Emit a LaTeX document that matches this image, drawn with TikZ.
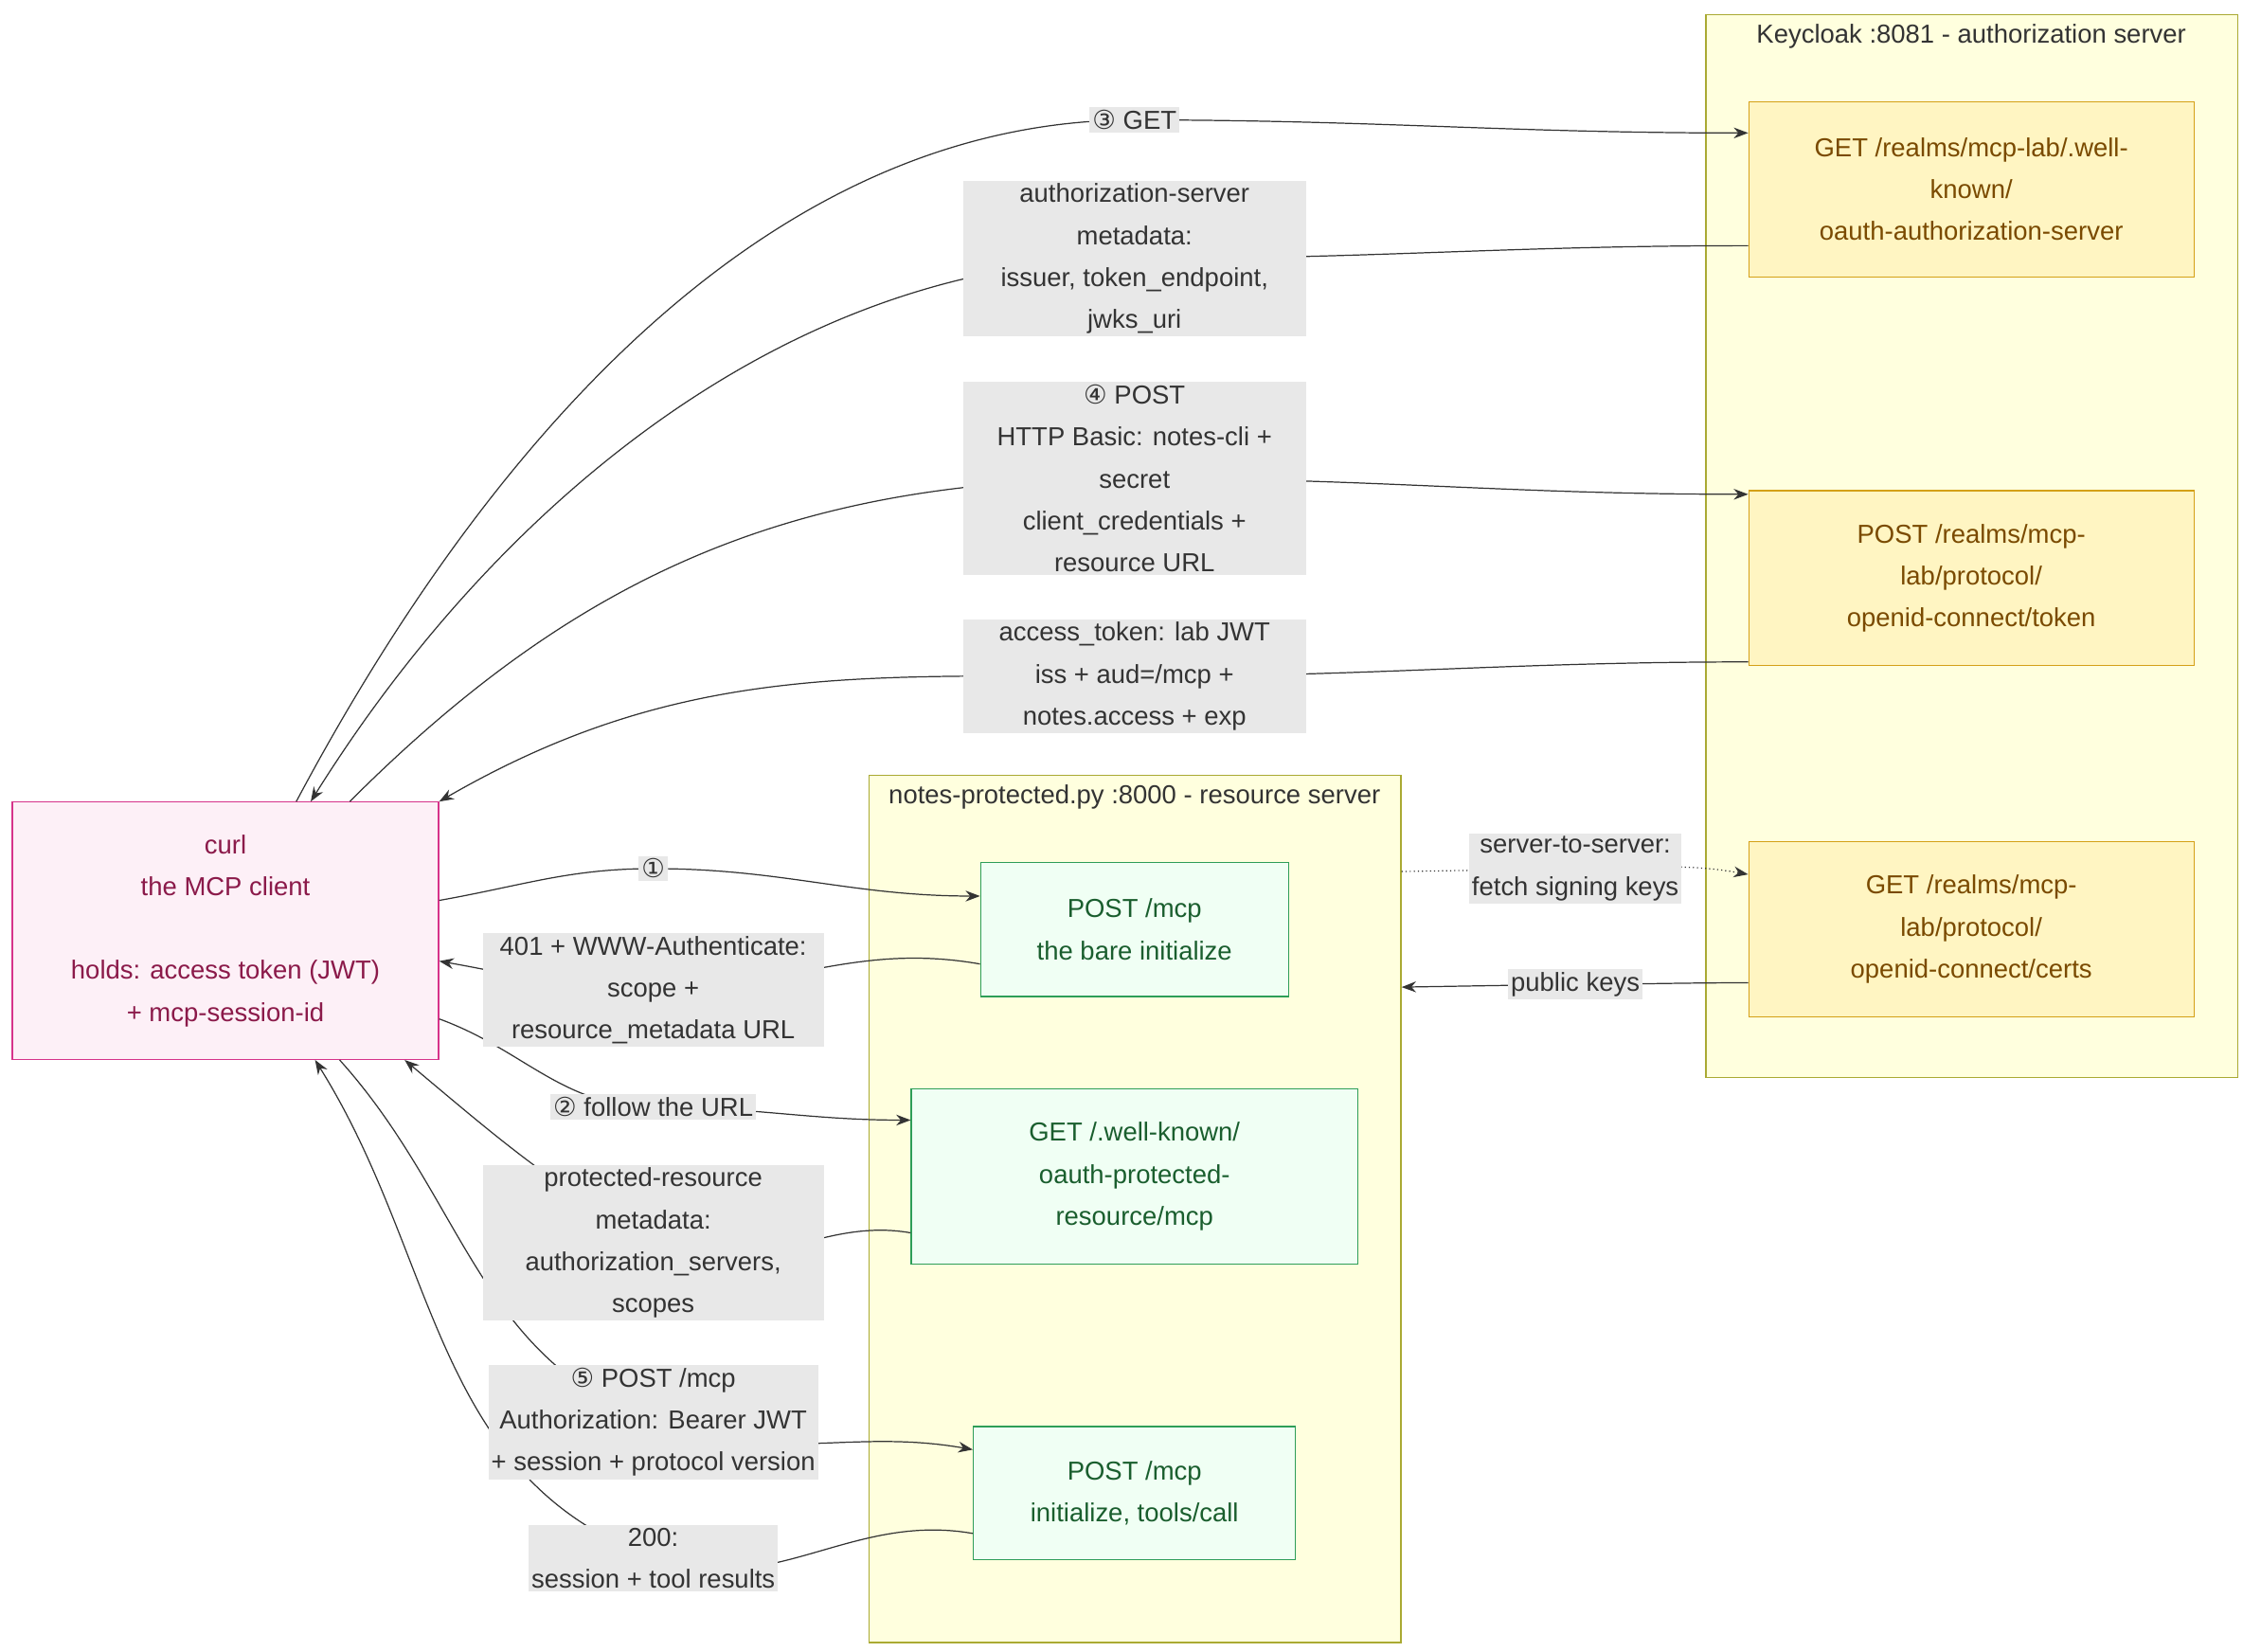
\documentclass[tikz,border=0pt]{standalone}
\usepackage{fontspec}
\setmainfont{Liberation Sans}
\newfontfamily\circfont{DejaVu Sans}
\usetikzlibrary{arrows.meta}
\definecolor{clusterfill}{HTML}{FFFFDE}
\definecolor{clusterline}{HTML}{AAAA33}
\definecolor{kcfill}{HTML}{FFF5C2}
\definecolor{kcline}{HTML}{D4A017}
\definecolor{kctext}{HTML}{7A4A00}
\definecolor{rsfill}{HTML}{F0FFF4}
\definecolor{rsline}{HTML}{2E9E58}
\definecolor{rstext}{HTML}{1A5E2E}
\definecolor{clfill}{HTML}{FDF0F7}
\definecolor{clline}{HTML}{D6338A}
\definecolor{cltext}{HTML}{8B1A4A}
\definecolor{lblfill}{HTML}{E8E8E8}
\newcommand{\cn}[1]{{\circfont #1}}
\tikzset{
  every node/.style={font=\fontsize{9}{14.5}\selectfont, align=center},
  cluster/.style={draw=clusterline, fill=clusterfill, anchor=north west, inner sep=0pt},
  kcbox/.style={draw=kcline, fill=kcfill, text=kctext, minimum width=154pt, minimum height=60.5pt},
  rsbox/.style={draw=rsline, fill=rsfill, text=rstext},
  edgelabel/.style={fill=lblfill, text=black!80, inner sep=1pt},
  flow/.style={draw=black!80, -{Stealth[length=5pt]}},
}
\begin{document}
\begin{tikzpicture}[x=0.5pt,y=-0.5pt]
\useasboundingbox (0,0) rectangle (1552,1143);

% Clusters
\node[cluster, minimum width=184pt, minimum height=367.5pt] (kc) at (1180,10) {};
\node[anchor=north, text=black!80] (kctitle) at (1364,10) {Keycloak :8081 - authorization server};
\node[cluster, minimum width=184pt, minimum height=300pt] (rs) at (601,536) {};
\node[anchor=north, text=black!80] (rstitle) at (785,536) {notes-protected.py :8000 - resource server};

% Keycloak endpoints
\node[kcbox] (meta) at (1364,131) {GET /realms/mcp-lab/.well-\\known/\\oauth-authorization-server};
\node[kcbox] (token) at (1364,400) {POST /realms/mcp-\\lab/protocol/\\openid-connect/token};
\node[kcbox] (certs) at (1364,643) {GET /realms/mcp-\\lab/protocol/\\openid-connect/certs};

% Resource server endpoints
\node[rsbox, minimum width=106.5pt, minimum height=46.5pt] (bare) at (785,643) {POST /mcp\\the bare initialize};
\node[rsbox, minimum width=154.5pt, minimum height=60.5pt] (prm) at (785,814) {GET /.well-known/\\oauth-protected-\\resource/mcp};
\node[rsbox, minimum width=111.5pt, minimum height=46pt] (call) at (785,1033) {POST /mcp\\initialize, tools/call};

% Client
\node[draw=clline, fill=clfill, text=cltext, minimum width=147.5pt, minimum height=89pt] (client) at (156,644)
  {curl\\the MCP client\\[14.5pt]holds: access token (JWT)\\+ mcp-session-id};

% Label anchors
\coordinate (l3) at (785,83);
\coordinate (lmeta) at (785,179);
\coordinate (l4) at (785,331);
\coordinate (ltok) at (785,468);
\coordinate (l1) at (452,601);
\coordinate (l401) at (452,685);
\coordinate (l2) at (452,766);
\coordinate (lprm) at (452,860);
\coordinate (l5) at (452,984);
\coordinate (l200) at (452,1078);
\coordinate (lkeys) at (1090,601);
\coordinate (lpub) at (1090,681);

% Edges
\draw[flow] (client.north -| 205,0) to[out=62,in=180,looseness=0.9] (l3) to[out=0,in=180] (meta.west |- 0,92);
\draw[flow] (meta.west |- 0,170) to[out=180,in=0] (lmeta) to[out=180,in=58,looseness=0.9] (client.north -| 215,0);
\draw[flow] (client.north -| 242,0) to[out=45,in=180] (l4) to[out=0,in=180] (token.west |- 0,342);
\draw[flow] (token.west |- 0,458) to[out=180,in=0] (ltok) to[out=180,in=30] (client.north east);
\draw[flow] (client.east |- 0,623) to[out=10,in=180] (l1) to[out=0,in=180] (bare.west |- 0,620);
\draw[flow] (bare.west |- 0,667) to[out=170,in=0] (l401) to[out=180,in=-10] (client.east |- 0,665);
\draw[flow] (client.east |- 0,705) to[out=-20,in=180] (l2) to[out=0,in=180] (prm.west |- 0,775);
\draw[flow] (prm.west |- 0,853) to[out=170,in=-30] (lprm) to[out=150,in=-40] (client.south -| 280,0);
\draw[flow] (client.south -| 235,0) to[out=-48,in=160] (l5) to[out=-20,in=170] (call.west |- 0,1003);
\draw[flow] (call.west |- 0,1061) to[out=170,in=-20] (l200) to[out=160,in=-58] (client.south -| 218,0);
\draw[flow, densely dotted] (rs.east |- 0,603) -- (lkeys) to[out=0,in=170] (certs.west |- 0,605);
\draw[flow] (certs.west |- 0,680) to[out=180,in=0] (lpub) -- (rs.east |- 0,683);

% Edge labels
\node[edgelabel] at (l3) {\cn{③} GET};
\node[edgelabel, minimum width=118.5pt] at (lmeta) {authorization-server\\metadata:\\issuer, token\_endpoint,\\jwks\_uri};
\node[edgelabel, minimum width=118.5pt] at (l4) {\cn{④} POST\\HTTP Basic: notes-cli +\\secret\\client\_credentials +\\resource URL};
\node[edgelabel, minimum width=118.5pt] at (ltok) {access\_token: lab JWT\\iss + aud=/mcp +\\notes.access + exp};
\node[edgelabel] at (l1) {\cn{①}};
\node[edgelabel, minimum width=118pt] at (l401) {401 + WWW-Authenticate:\\scope +\\resource\_metadata URL};
\node[edgelabel] at (l2) {\cn{②} follow the URL};
\node[edgelabel, minimum width=118pt] at (lprm) {protected-resource\\metadata:\\authorization\_servers,\\scopes};
\node[edgelabel] at (l5) {\cn{⑤} POST /mcp\\Authorization: Bearer JWT\\+ session + protocol version};
\node[edgelabel] at (l200) {200:\\session + tool results};
\node[edgelabel] at (lkeys) {server-to-server:\\fetch signing keys};
\node[edgelabel] at (lpub) {public keys};
\end{tikzpicture}
\end{document}
